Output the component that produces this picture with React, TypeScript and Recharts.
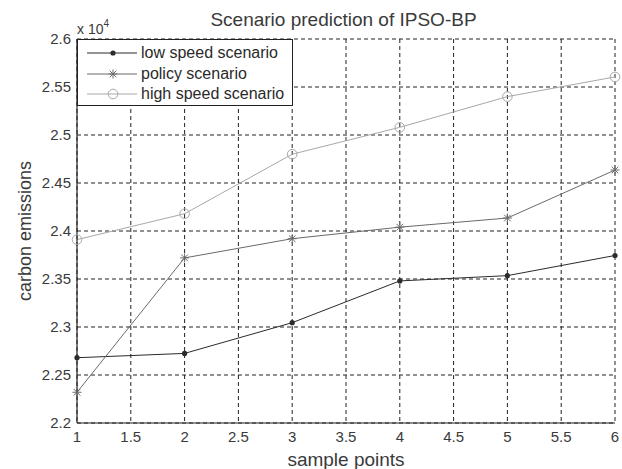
import React from "react";
import { LineChart, Line, XAxis, YAxis, CartesianGrid, Label } from "recharts";

const samplePoints = [1, 2, 3, 4, 5, 6];
const lowSpeed = [2.268, 2.2725, 2.3045, 2.348, 2.3535, 2.3745];
const policy = [2.232, 2.372, 2.392, 2.404, 2.4135, 2.4635];
const highSpeed = [2.391, 2.418, 2.48, 2.508, 2.54, 2.5605];
const xTicks = [1, 1.5, 2, 2.5, 3, 3.5, 4, 4.5, 5, 5.5, 6];
const yTicks = [2.2, 2.25, 2.3, 2.35, 2.4, 2.45, 2.5, 2.55, 2.6];
const seriesNames = ["low speed scenario", "policy scenario", "high speed scenario"];
const seriesColors = ["#2b2b2b", "#6a6a6a", "#a8a8a8"];

const data = samplePoints.map((x, i) => ({
  x,
  low: lowSpeed[i],
  policy: policy[i],
  high: highSpeed[i],
}));

const FONT = "'Liberation Sans', Arial, sans-serif";
const TEXT = "#3a3a3a";

const DotMarker = (props: any) => {
  const { cx, cy } = props;
  if (cx == null || cy == null) return null;
  return <circle cx={cx} cy={cy} r={2.6} fill={seriesColors[0]} stroke="none" />;
};
const StarMarker = (props: any) => {
  const { cx, cy } = props;
  if (cx == null || cy == null) return null;
  const s = 4.5;
  const d = 3.3;
  const c = seriesColors[1];
  return (
    <g stroke={c} strokeWidth={1}>
      <line x1={cx - s} y1={cy} x2={cx + s} y2={cy} />
      <line x1={cx} y1={cy - s} x2={cx} y2={cy + s} />
      <line x1={cx - d} y1={cy - d} x2={cx + d} y2={cy + d} />
      <line x1={cx - d} y1={cy + d} x2={cx + d} y2={cy - d} />
    </g>
  );
};
const CircleMarker = (props: any) => {
  const { cx, cy } = props;
  if (cx == null || cy == null) return null;
  return <circle cx={cx} cy={cy} r={4.8} fill="none" stroke={seriesColors[2]} strokeWidth={1} />;
};

const markers = [DotMarker, StarMarker, CircleMarker];

const LegendBox = () => (
  <div
    style={{
      position: "absolute",
      left: 77,
      top: 39,
      width: 216,
      height: 67,
      border: "1px solid #222",
      background: "#fff",
      boxSizing: "border-box",
      fontFamily: FONT,
      fontSize: 16,
      color: "#2a2a2a",
    }}
  >
    {seriesNames.map((n, i) => {
      const M = markers[i];
      return (
        <div key={n} style={{ position: "absolute", left: 8, top: 3 + i * 20.5, height: 20, display: "flex", alignItems: "center" }}>
          <svg width={52} height={20} style={{ display: "block" }}>
            <line x1={1} y1={10} x2={51} y2={10} stroke={seriesColors[i]} strokeWidth={1} />
            <M cx={27} cy={10} />
          </svg>
          <span style={{ marginLeft: 3, whiteSpace: "nowrap", lineHeight: "20px" }}>{n}</span>
        </div>
      );
    })}
  </div>
);

export default function App() {
  return (
    <div style={{ position: "absolute", left: 0, top: 0, width: 622, height: 469, background: "#fff" }}>
      <LineChart
        width={622}
        height={469}
        data={data}
        margin={{ top: 39, right: 7, bottom: 0, left: 0 }}
      >
        <CartesianGrid stroke="#222" strokeDasharray="4 3" strokeWidth={1} />
        <XAxis
          dataKey="x"
          type="number"
          domain={[1, 6]}
          ticks={xTicks}
          tickLine={false}
          tickSize={6}
          height={46}
          axisLine={{ stroke: "#222", strokeWidth: 1.2 }}
          tick={{ fill: TEXT, fontSize: 15, fontFamily: FONT }}
          interval={0}
        >
          <Label value="sample points" position="insideBottom" offset={3} fill={TEXT} fontSize={19} fontFamily={FONT} />
        </XAxis>
        <XAxis
          xAxisId="top"
          orientation="top"
          dataKey="x"
          type="number"
          domain={[1, 6]}
          tick={false}
          tickLine={false}
          height={0}
          axisLine={{ stroke: "#222", strokeWidth: 1.2 }}
        />
        <YAxis
          type="number"
          domain={[2.2, 2.6]}
          ticks={yTicks}
          tickLine={false}
          tickSize={4}
          width={77}
          axisLine={{ stroke: "#222", strokeWidth: 1.2 }}
          tick={{ fill: TEXT, fontSize: 15, fontFamily: FONT }}
          tickFormatter={(v: number) => String(parseFloat(v.toFixed(2)))}
          interval={0}
        >
          <Label value="carbon emissions" angle={-90} position="insideLeft" offset={25} fill={TEXT} fontSize={18} fontFamily={FONT} style={{ textAnchor: "middle" }} />
        </YAxis>
        <YAxis
          yAxisId="right"
          orientation="right"
          type="number"
          domain={[2.2, 2.6]}
          tick={false}
          tickLine={false}
          width={0}
          axisLine={{ stroke: "#222", strokeWidth: 1.2 }}
        />
        <Line dataKey="low" name={seriesNames[0]} stroke={seriesColors[0]} strokeWidth={1} dot={<DotMarker />} activeDot={false} isAnimationActive={false} />
        <Line dataKey="policy" name={seriesNames[1]} stroke={seriesColors[1]} strokeWidth={1} dot={<StarMarker />} activeDot={false} isAnimationActive={false} />
        <Line dataKey="high" name={seriesNames[2]} stroke={seriesColors[2]} strokeWidth={1} dot={<CircleMarker />} activeDot={false} isAnimationActive={false} />
      </LineChart>
      <div
        style={{
          position: "absolute",
          left: 0,
          width: 622,
          top: 9,
          textAlign: "center",
          paddingLeft: 65,
          boxSizing: "border-box",
          fontFamily: FONT,
          fontSize: 19,
          color: TEXT,
          whiteSpace: "nowrap",
        }}
      >
        Scenario prediction of IPSO-BP
      </div>
      <div style={{ position: "absolute", left: 77, top: 18, fontFamily: FONT, fontSize: 14, color: TEXT, whiteSpace: "nowrap" }}>
        x 10<sup style={{ fontSize: 10, verticalAlign: "7px" }}>4</sup>
      </div>
      <LegendBox />
    </div>
  );
}
